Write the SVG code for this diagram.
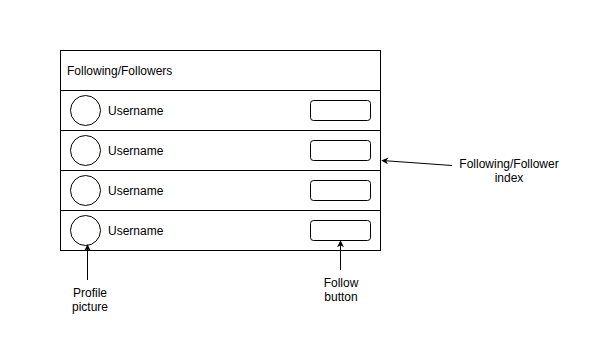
<svg xmlns="http://www.w3.org/2000/svg" width="612" height="364" viewBox="0 0 612 364">
  <defs>
    <style>
      .box { fill: #ffffff; stroke: #000000; stroke-width: 1; }
      .avatar { fill: #ffffff; stroke: #000000; stroke-width: 1; }
      .btn { fill: #ffffff; stroke: #000000; stroke-width: 1; }
      .lbl { font-family: "Liberation Sans", Arial, Helvetica, sans-serif; font-size: 12px; fill: #000000; }
      .mid { text-anchor: middle; }
      .edge { fill: none; stroke: #000000; stroke-width: 1; }
    </style>
    <marker id="arrow" viewBox="0 0 10 10" refX="9" refY="5" markerWidth="7" markerHeight="7" orient="auto" markerUnits="userSpaceOnUse">
      <path d="M0,0 L10,5 L0,10 L3,5 Z" fill="#000000"/>
    </marker>
  </defs>
  <rect width="612" height="364" fill="#ffffff"/>

  <g id="header">
    <rect class="box" x="60.5" y="50.5" width="320" height="40"/>
    <text class="lbl" x="67" y="75">Following/Followers</text>
  </g>

  <g id="row1">
    <rect class="box" x="60.5" y="90.5" width="320" height="40"/>
    <circle class="avatar" cx="85.5" cy="110.5" r="15"/>
    <text class="lbl" x="108" y="115">Username</text>
    <rect class="btn" x="310.5" y="100.5" width="60" height="20" rx="3"/>
  </g>

  <g id="row2">
    <rect class="box" x="60.5" y="130.5" width="320" height="40"/>
    <circle class="avatar" cx="85.5" cy="150.5" r="15"/>
    <text class="lbl" x="108" y="155">Username</text>
    <rect class="btn" x="310.5" y="140.5" width="60" height="20" rx="3"/>
  </g>

  <g id="row3">
    <rect class="box" x="60.5" y="170.5" width="320" height="40"/>
    <circle class="avatar" cx="85.5" cy="190.5" r="15"/>
    <text class="lbl" x="108" y="195">Username</text>
    <rect class="btn" x="310.5" y="180.5" width="60" height="20" rx="3"/>
  </g>

  <g id="row4">
    <rect class="box" x="60.5" y="210.5" width="320" height="40"/>
    <circle class="avatar" cx="85.5" cy="230.5" r="15"/>
    <text class="lbl" x="108" y="235">Username</text>
    <rect class="btn" x="310.5" y="220.5" width="60" height="20" rx="3"/>
  </g>

  <g id="label-profile">
    <text class="lbl mid" x="90" y="297">Profile</text>
    <text class="lbl mid" x="90" y="311">picture</text>
  </g>

  <g id="label-follow">
    <text class="lbl mid" x="341" y="287">Follow</text>
    <text class="lbl mid" x="341" y="301">button</text>
  </g>

  <g id="label-index">
    <text class="lbl mid" x="509" y="168">Following/Follower</text>
    <text class="lbl mid" x="509" y="182">index</text>
  </g>

  <g id="connectors">
    <path class="edge" d="M87.5,280 L87.5,245" marker-end="url(#arrow)"/>
    <path class="edge" d="M340.5,270 L340.5,241" marker-end="url(#arrow)"/>
    <path class="edge" d="M452,165.5 L382,160.5" marker-end="url(#arrow)"/>
  </g>
</svg>
